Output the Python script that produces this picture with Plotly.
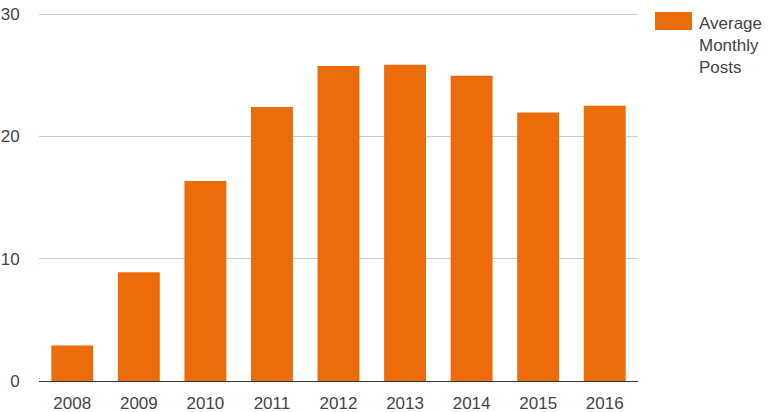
import plotly.graph_objects as go

years = ["2008", "2009", "2010", "2011", "2012", "2013", "2014", "2015", "2016"]
avg_monthly_posts = [2.9, 8.9, 16.35, 22.4, 25.75, 25.85, 24.95, 21.95, 22.5]
y_ticks = [0, 10, 20, 30]
series_name = "Average<br>Monthly<br>Posts"

BAR = "#EC6C0B"
TXT = "#444444"

fig = go.Figure()
fig.add_trace(go.Bar(x=years, y=avg_monthly_posts, marker_color=BAR,
                     marker_line_width=0, showlegend=False, name="Average Monthly Posts",
                     hoverinfo="skip"))

# plot area: x 39..638, y 11..381 (30 gridline sits at y≈14)
fig.update_layout(
    width=768, height=412,
    margin=dict(l=39, r=130, t=11, b=31, autoexpand=False),
    paper_bgcolor="white", plot_bgcolor="white",
    bargap=0.37,
    font=dict(family="Arial, Liberation Sans, sans-serif", size=17, color=TXT),
    xaxis=dict(type="category", showgrid=False, showline=False, zeroline=False,
               automargin=False,
               ticks="outside", ticklen=7, tickcolor="rgba(0,0,0,0)",
               tickfont=dict(size=17, color=TXT)),
    yaxis=dict(range=[0, 30.25], tickvals=y_ticks, showgrid=True, gridcolor="#CCCCCC",
               gridwidth=1, zeroline=True, zerolinecolor="#333333", zerolinewidth=1,
               automargin=False,
               showline=False, ticks="outside", ticklen=15, tickcolor="rgba(0,0,0,0)",
               tickfont=dict(size=17, color=TXT)),
)

H = 370.0
# Legend drawn manually (wide swatch + wrapped label)
fig.add_shape(type="rect", xref="paper", yref="paper",
              x0=(655 - 39) / 599, x1=(692 - 39) / 599,
              y0=(381 - 30) / H, y1=(381 - 12) / H,
              fillcolor=BAR, line_width=0)
fig.add_annotation(xref="paper", yref="paper", x=(697 - 39) / 599, y=(381 - 12) / H,
                   xanchor="left", yanchor="top", align="left", showarrow=False,
                   text=series_name, font=dict(size=17, color=TXT))

fig.write_html("out.html", config={"displayModeBar": False},
               post_script="document.body.style.margin='0';document.body.style.overflow='hidden';")
